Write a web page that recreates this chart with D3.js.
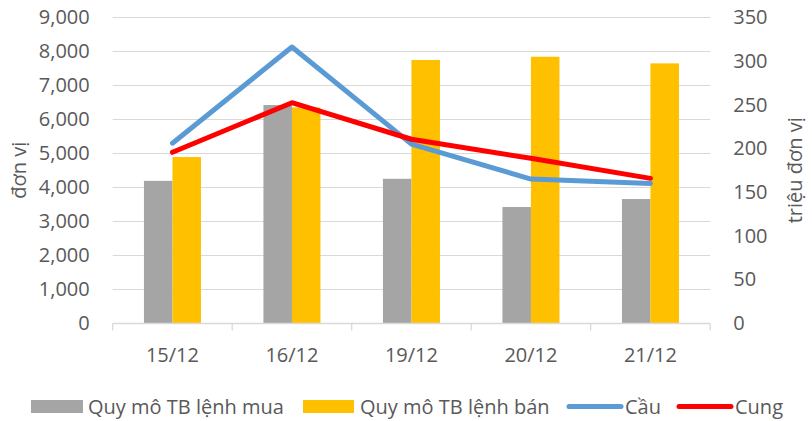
<!DOCTYPE html>
<html>
<head>
<meta charset="utf-8">
<script src="https://cdn.jsdelivr.net/npm/d3@7"></script>
<style>
  html, body { margin: 0; padding: 0; background: #fff; }
  svg { display: block; }
  text { font-family: "Open Sans", "Noto Sans", sans-serif; fill: #595959; }
</style>
</head>
<body>
<svg id="chart" width="812" height="421"></svg>
<script>
// ---- data ----
const categories = ["15/12", "16/12", "19/12", "20/12", "21/12"];
const buySize  = [4190, 6420, 4250, 3420, 3655];   // Quy mô TB lệnh mua (đơn vị)
const sellSize = [4890, 6350, 7745, 7840, 7645];   // Quy mô TB lệnh bán (đơn vị)
const demand   = [206, 316, 205, 165, 160];        // Cầu (triệu đơn vị)
const supply   = [195.6, 252.3, 210.5, 188.7, 165.8]; // Cung (triệu đơn vị)
const leftTicks  = [0, 1000, 2000, 3000, 4000, 5000, 6000, 7000, 8000, 9000];
const rightTicks = [0, 50, 100, 150, 200, 250, 300, 350];
const seriesNames = ["Quy mô TB lệnh mua", "Quy mô TB lệnh bán", "Cầu", "Cung"];
const colors = ["#A5A5A5", "#FFC000", "#5B9BD5", "#FF0000"];

// ---- layout ----
const svg = d3.select("#chart");
const plot = { left: 112.7, right: 710.2, top: 17.3, bottom: 323.3 };
const fontSize = 20;

const x = d3.scaleBand().domain(categories).range([plot.left, plot.right]).padding(0);
const xInner = d3.scaleBand().domain(["buy", "sell"]).range([0, x.bandwidth()])
  .paddingInner(0).paddingOuter(1.096);
const yL = d3.scaleLinear().domain([0, 9000]).range([plot.bottom, plot.top]);
const yR = d3.scaleLinear().domain([0, 350]).range([plot.bottom, plot.top]);

// gridlines
svg.append("g").selectAll("line").data(leftTicks.filter(d => d > 0)).join("line")
  .attr("x1", plot.left).attr("x2", plot.right)
  .attr("y1", d => Math.round(yL(d)) + 0.5).attr("y2", d => Math.round(yL(d)) + 0.5)
  .attr("stroke", "#D9D9D9").attr("stroke-width", 1);

// bars
const bars = svg.append("g");
categories.forEach((c, i) => {
  [["buy", buySize[i], colors[0]], ["sell", sellSize[i], colors[1]]].forEach(([k, v, col]) => {
    bars.append("rect")
      .attr("x", x(c) + xInner(k))
      .attr("width", xInner.bandwidth())
      .attr("y", yL(v))
      .attr("height", yL(0) - yL(v))
      .attr("fill", col);
  });
});

// x axis baseline and ticks
const xAxis = svg.append("g").attr("transform", `translate(0,${Math.round(plot.bottom) + 0.5})`);
xAxis.append("line").attr("x1", plot.left).attr("x2", plot.right)
  .attr("stroke", "#D9D9D9").attr("stroke-width", 1.3);
const tickXs = categories.map(c => x(c)).concat([plot.right]);
xAxis.selectAll("line.tk").data(tickXs).join("line").attr("class", "tk")
  .attr("x1", d => d).attr("x2", d => d).attr("y1", 0).attr("y2", 7)
  .attr("stroke", "#D9D9D9").attr("stroke-width", 1.3);
xAxis.selectAll("text").data(categories).join("text")
  .attr("x", d => x(d) + x.bandwidth() / 2).attr("y", 38)
  .attr("text-anchor", "middle").style("font-size", fontSize + "px").text(d => d);

// left axis
const fmt = d3.format(",");
const gL = svg.append("g").attr("transform", `translate(${plot.left - 23},0)`)
  .call(d3.axisLeft(yL).tickValues(leftTicks).tickSize(0).tickPadding(0).tickFormat(fmt));
gL.select(".domain").remove();
gL.selectAll("text").style("font-size", fontSize + "px").style("font-family", '"Open Sans", sans-serif').attr("fill", "#595959");

// right axis
const gR = svg.append("g").attr("transform", `translate(${plot.right + 23},0)`)
  .call(d3.axisRight(yR).tickValues(rightTicks).tickSize(0).tickPadding(0));
gR.select(".domain").remove();
gR.selectAll("text").style("font-size", fontSize + "px").style("font-family", '"Open Sans", sans-serif').attr("fill", "#595959");

// axis titles
svg.append("text").attr("transform", `translate(26,${(plot.top + plot.bottom) / 2}) rotate(-90)`)
  .attr("text-anchor", "middle").style("font-size", fontSize + "px").text("đơn vị");
svg.append("text").attr("transform", `translate(802,${(plot.top + plot.bottom) / 2}) rotate(-90)`)
  .attr("text-anchor", "middle").style("font-size", fontSize + "px").text("triệu đơn vị");

// lines
const line = d3.line().x((d, i) => x(categories[i]) + x.bandwidth() / 2).y(d => yR(d));
[[demand, colors[2]], [supply, colors[3]]].forEach(([vals, col]) => {
  svg.append("path").datum(vals).attr("d", line)
    .attr("fill", "none").attr("stroke", col).attr("stroke-width", 5)
    .attr("stroke-linecap", "round").attr("stroke-linejoin", "round");
});

// legend
const legY = 406.5;
const legItems = [
  { name: seriesNames[0], color: colors[0], type: "rect", x0: 31, x1: 83, tx: 88 },
  { name: seriesNames[1], color: colors[1], type: "rect", x0: 303, x1: 354, tx: 360 },
  { name: seriesNames[2], color: colors[2], type: "line", x0: 569, x1: 621, tx: 625 },
  { name: seriesNames[3], color: colors[3], type: "line", x0: 679, x1: 731, tx: 735 }
];
const leg = svg.append("g");
legItems.forEach(it => {
  if (it.type === "rect") {
    leg.append("rect").attr("x", it.x0).attr("y", legY - 6.5).attr("width", it.x1 - it.x0).attr("height", 13)
      .attr("fill", it.color);
  } else {
    leg.append("line").attr("x1", it.x0).attr("x2", it.x1).attr("y1", legY).attr("y2", legY)
      .attr("stroke", it.color).attr("stroke-width", 5).attr("stroke-linecap", "round");
  }
  leg.append("text").attr("x", it.tx).attr("y", legY).attr("dy", "0.35em")
    .style("font-size", fontSize + "px").text(it.name);
});
</script>
</body>
</html>
